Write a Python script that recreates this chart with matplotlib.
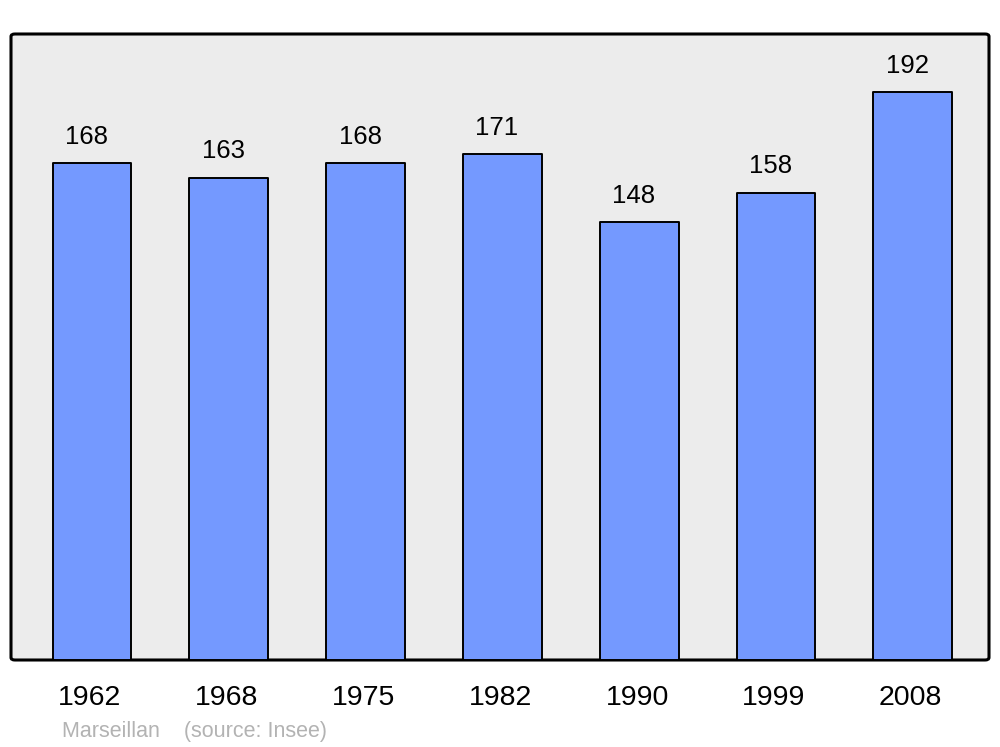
import matplotlib.pyplot as plt
import matplotlib.transforms as mtransforms
from matplotlib.patches import FancyBboxPatch

plt.rcParams['font.family'] = ['Liberation Sans', 'DejaVu Sans']

years = ['1962', '1968', '1975', '1982', '1990', '1999', '2008']
population = [168, 163, 168, 171, 148, 158, 192]
source_text = 'Marseillan    (source: Insee)'

bar_color = '#7499ff'
bg_color = '#ececec'

fig = plt.figure(figsize=(10, 7.47), dpi=100)
ax = fig.add_axes([11 / 1000, 87 / 747, 978 / 1000, 626 / 747])

# rounded frame instead of plain spines
ax.patch.set_visible(False)
for s in ax.spines.values():
    s.set_visible(False)
frame = FancyBboxPatch((0, 0), 1, 1, boxstyle='round,pad=0,rounding_size=0.004',
                       transform=ax.transAxes, facecolor=bg_color, edgecolor='black',
                       linewidth=2.2, clip_on=False, zorder=0)
ax.add_patch(frame)

x = list(range(len(years)))
bars = ax.bar(x, population, width=0.575, color=bar_color, edgecolor='black',
              linewidth=1.4, zorder=2)
for b in bars:
    b.set_joinstyle('round')

for i, v in zip(x, population):
    ax.annotate(str(v), xy=(i, v), xytext=(-4, 19), textcoords='offset points',
                ha='center', va='center', fontsize=18.5)

ax.set_xlim(-0.592, 6.557)
ax.set_ylim(0, 211.6)
ax.set_xticks(x)
ax.set_xticklabels(years, fontsize=20.5)
ax.tick_params(axis='x', length=0, pad=18)
ax.set_yticks([])

# labels sit a touch left of the bar centres
shift = mtransforms.ScaledTranslation(-2 / 100, 0, fig.dpi_scale_trans)
for lbl in ax.get_xticklabels():
    lbl.set_transform(lbl.get_transform() + shift)

fig.text(62 / 1000, 1 - 737 / 747, source_text, va='baseline', ha='left',
         color='#b3b3b3', fontsize=15.5)

fig.savefig('out.png', dpi=100, facecolor='white')
